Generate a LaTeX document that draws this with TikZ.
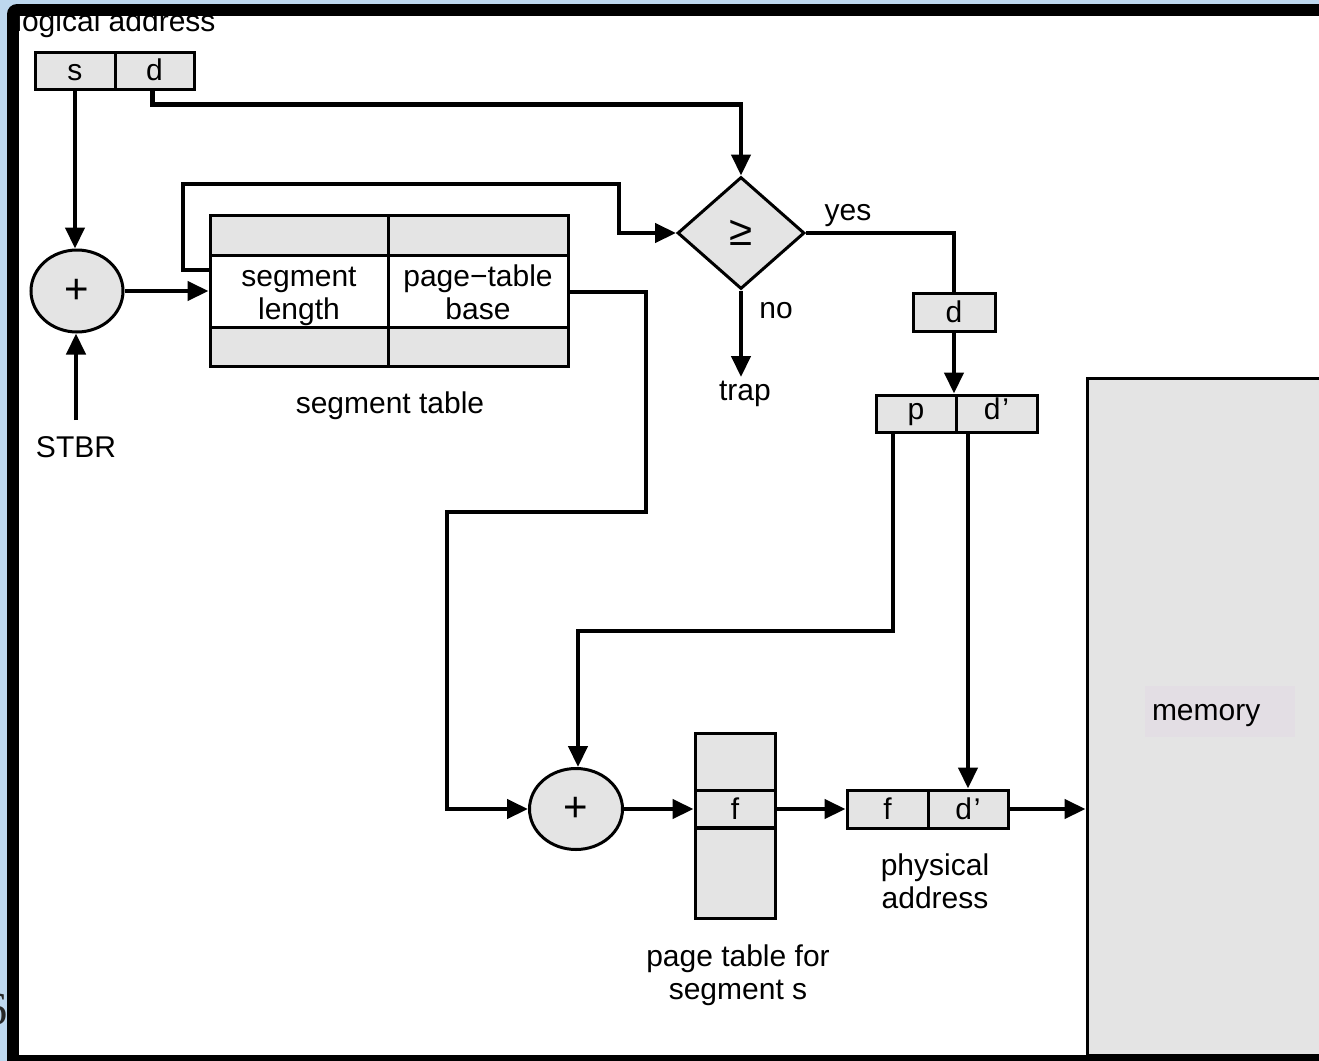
\documentclass[tikz,border=0pt]{standalone}
\usepackage{fontspec}
\setmainfont{Liberation Sans}
\newfontfamily\serifdigit{Liberation Serif}
\usetikzlibrary{shapes.geometric,arrows.meta}
\definecolor{bluebg}{RGB}{189,215,238}
\definecolor{cellgrey}{RGB}{228,228,228}
\definecolor{lav}{RGB}{227,222,228}
\newcommand\diaglab{\fontsize{15pt}{16.5pt}\selectfont}
\newcommand\bigsym{\fontsize{21pt}{21pt}\selectfont}
\begin{document}
\begin{tikzpicture}[x=0.5pt,y=-0.5pt,
  every node/.style={font=\diaglab},
  cellbase/.style={draw, line width=1.5pt, fill=cellgrey, inner sep=0pt},
  cell/.style={cellbase, text height=10.5pt, text depth=0.5pt},
  cellmulti/.style={cellbase, align=center},
  adder/.style={ellipse, draw, line width=1.5pt, fill=cellgrey, inner sep=0pt, font=\bigsym},
  txt/.style={inner sep=0pt, align=center},
  basetxt/.style={inner sep=0pt, anchor=base},
  conn/.style={line width=2.2pt},
  arr/.style={conn, -{Triangle[length=10.5pt,width=9.5pt]}}]
\useasboundingbox (0,0) rectangle (1319,1061);
\clip (0,0) rectangle (1319,1061);
% background and frame
\fill[bluebg] (0,0) rectangle (1319,1061);
\begin{scope}
  \clip (0,0) rectangle (7,1061);
  \node[anchor=base east, inner sep=0pt, font=\serifdigit\fontsize{23pt}{25pt}\selectfont, text=black!85] (pagenum) at (8,1024) {6};
\end{scope}
\fill[black, rounded corners=5pt] (7,4) rectangle (1340,1075);
\fill[white] (19,16) rectangle (1340,1055);
\begin{scope}
  \clip (19,16) rectangle (1319,1061);
  \node[anchor=base west, inner sep=0pt] (logaddr) at (15,31) {logical address};
\end{scope}

% logical address
\node[cell, minimum width=40pt, minimum height=18.5pt] (s) at (75,70.5) {s};
\node[cell, minimum width=39.5pt, minimum height=18.5pt] (d) at (154.5,70.5) {d};

% first adder and STBR
\node[adder, minimum width=46pt, minimum height=41pt] (plus1) at (77,291) {+};
\node[basetxt] (stbr) at (76,457) {STBR};
\coordinate (stbrtop) at (76,420);

% segment table
\node[cellbase, minimum width=89pt, minimum height=21pt] (st11) at (299,236) {};
\node[cellbase, minimum width=90pt, minimum height=21pt] (st12) at (478,236) {};
\node[cellmulti, fill=white, minimum width=89pt, minimum height=35pt] (seglen) at (299,292) {\rule{0pt}{15.5pt}segment\\length\strut};
\node[cellmulti, fill=white, minimum width=90pt, minimum height=35pt] (ptbase) at (478,292) {\rule{0pt}{15.5pt}page−table\\base\strut};
\node[cellbase, minimum width=89pt, minimum height=19.5pt] (st31) at (299,346.5) {};
\node[cellbase, minimum width=90pt, minimum height=19.5pt] (st32) at (478,346.5) {};
\node[basetxt] (stlabel) at (390,413) {segment table};

% comparison
\node[diamond, draw, line width=1.5pt, fill=cellgrey, inner sep=0pt, minimum width=63.5pt, minimum height=56pt, font=\bigsym] (cmp) at (741,233) {≥};
\node[basetxt] (yes) at (848,220) {yes};
\node[basetxt] (no) at (776,318) {no};
\node[basetxt] (trap) at (745,400) {trap};
\coordinate (trapend) at (741,377);

% d and p d'
\node[cell, minimum width=41pt, minimum height=19pt] (dd) at (954,312) {d};
\node[cell, text depth=5pt, minimum width=40pt, minimum height=18.5pt] (p) at (916,413.5) {p};
\node[cell, text depth=5pt, minimum width=40.5pt, minimum height=18.5pt] (dp) at (996.5,413.5) {d\kern1pt’};

% second adder and page table
\node[adder, minimum width=46.5pt, minimum height=40.5pt] (plus2) at (576,809) {+};
\coordinate (pturn) at (578,631);
\node[cellbase, minimum width=40pt, minimum height=29pt] (pt1) at (735,762) {};
\node[cell, minimum width=40pt, minimum height=18.5pt] (ptf) at (735,809) {f};
\node[cellbase, minimum width=40pt, minimum height=45pt] (pt3) at (735,873) {};
\node[txt] (ptlabel) at (738,975.5) {page table for\\segment s};

% physical address
\node[cell, minimum width=40.5pt, minimum height=19pt] (pf) at (887.5,809) {f};
\node[cell, minimum width=40pt, minimum height=19pt] (pd) at (968,809) {d\kern1pt’};
\node[txt] (physlabel) at (935,881) {physical\\address};

% memory
\node[draw, line width=1.5pt, fill=cellgrey, inner sep=0pt, minimum width=126.5pt, minimum height=338.5pt] (mem) at (1213.5,716.5) {};
\node[fill=lav, text width=68pt, align=left, inner xsep=3.5pt, inner ysep=0pt, minimum height=25.5pt, text height=10.5pt, text depth=2pt] (memlabel) at (1220,711.5) {memory};

% connectors
\draw[arr] (s.south) -- (s.south |- plus1.north);
\draw[arr] (stbrtop) -- (stbrtop |- plus1.south);
\draw[arr] ([xshift=-1pt]d.south) -- ++(0,14) -| (cmp.north);
\draw[arr] (plus1.east) -- (plus1.east -| seglen.west);
\draw[arr] ([yshift=11pt]seglen.west) -| (183,184) -| (619,233) -- (cmp.west);
\draw[conn] (cmp.east) -| (dd.north);
\draw[arr] (dd.south) -- (dd.south |- p.north);
\draw[arr] (cmp.south) -- (trapend);
\draw[arr] (ptbase.east) -| (646,512) -| (447,809) -- (plus2.west);
\draw[arr] ([xshift=-11.5pt]p.south) |- (pturn) -- (pturn |- plus2.north);
\draw[arr] (pd.north |- dp.south) -- (pd.north);
\draw[arr] (plus2.east) -- (ptf.west);
\draw[arr] (ptf.east) -- (pf.west);
\draw[arr] (pd.east) -- (pd.east -| mem.west);
\end{tikzpicture}
\end{document}
